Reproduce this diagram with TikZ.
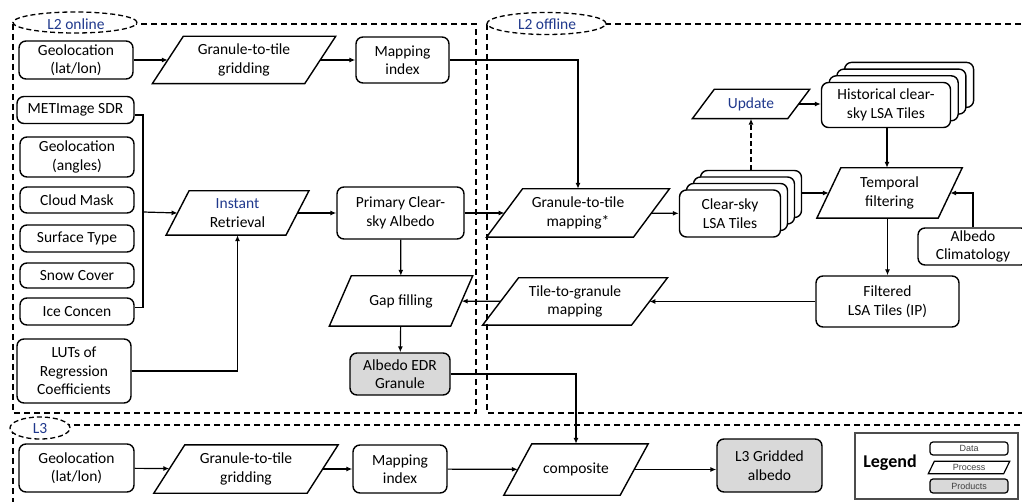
\documentclass[tikz,border=0pt]{standalone}
\usepackage{fontspec}
\setmainfont{Carlito}
\newfontfamily\legfont{Liberation Sans}
\usetikzlibrary{arrows.meta,calc,shapes.geometric}
\definecolor{lblue}{RGB}{31,56,140}
\definecolor{prodgray}{RGB}{217,217,217}
\newcommand\mainfs{\fontsize{15.5}{18.5}\selectfont}
\newcommand\paraoutline[2]{\draw[shapeline] ([xshift=-#2pt]#1.south west) -- ([xshift=#2pt]#1.north west) -- ([xshift=#2pt]#1.north east) -- ([xshift=-#2pt]#1.south east) -- cycle;}
\tikzset{
  box/.style={draw, rounded corners=7pt, line width=1.4pt, fill=white, align=center, inner sep=0pt, font=\mainfs},
  prod/.style={box, fill=prodgray},
  para/.style={inner sep=0pt, align=center, font=\mainfs},
  shapeline/.style={line width=1.4pt, line join=miter},
  conn/.style={line width=1.2pt},
  arr/.style={conn, -{Latex[length=6pt,width=5pt]}},
  region/.style={line width=1.4pt, dash pattern=on 6pt off 4pt},
  tag/.style={draw, line width=1.3pt, dash pattern=on 5pt off 3pt, ellipse, fill=white, inner sep=0pt},
  tagtext/.style={font=\mainfs, text=lblue},
  legbox/.style={draw, rounded corners=3pt, line width=1.2pt, inner sep=0pt, font=\legfont\fontsize{9}{10}\selectfont, text=black!75}
}
\begin{document}
\begin{tikzpicture}[x=1pt,y=-1pt]
\useasboundingbox (0,0) rectangle (1022,502);
\clip (0,0) rectangle (1022,502);
% regions
\draw[region] (13,24) rectangle (476,413);
\draw[region] (487,24) rectangle (1040,413);
\draw[region] (1040,425) -- (13,425) -- (13,515);
% region tags
\path (75,22.5) node[tag, minimum width=124pt, minimum height=21pt] (tagon) {};
\node[tagtext] (tagontext) at (76,24) {L2 online};
\path (546.5,23.5) node[tag, minimum width=119pt, minimum height=22pt] (tagoff) {};
\node[tagtext] (tagofftext) at (547,24) {L2 offline};
\path (40,428) node[tag, minimum width=60pt, minimum height=22pt] (tagl3) {};
\node[tagtext] (tagl3text) at (40,429) {L3};

% L2 online
\node[box, minimum width=114pt, minimum height=38pt] (geo1) at (76,60) {Geolocation\\(lat/lon)};
\node[para, minimum width=152pt, minimum height=47pt] (g2t1) at (244,60) {Granule-to-tile\\gridding};
\paraoutline{g2t1}{15.5}
\node[box, minimum width=93pt, minimum height=46pt] (map1) at (402.5,60) {Mapping\\index};

\node[box, minimum width=117pt, minimum height=27pt] (met) at (75.5,110) {METImage SDR};
\node[box, minimum width=114pt, minimum height=40pt] (geoang) at (77,157) {Geolocation\\(angles)};
\node[box, minimum width=114pt, minimum height=26pt] (cloud) at (77,200) {Cloud Mask};
\node[box, minimum width=114pt, minimum height=27pt] (surf) at (77,238.5) {Surface Type};
\node[box, minimum width=114pt, minimum height=25pt] (snow) at (77,275.5) {Snow Cover};
\node[box, minimum width=114pt, minimum height=27pt] (ice) at (77,311.5) {Ice Concen};
\node[box, minimum width=114pt, minimum height=64pt] (luts) at (74,371) {LUTs of\\Regression\\Coefficients};
\coordinate (brk) at (143,212);

\node[para, minimum width=119.5pt, minimum height=44pt] (inst) at (237.5,213) {{\color{lblue}Instant}\\Retrieval};
\paraoutline{inst}{11.5}
\node[box, minimum width=127pt, minimum height=52pt] (prim) at (400.5,213) {Primary Clear-\\sky Albedo};
\node[para, minimum width=121pt, minimum height=50pt] (gap) at (401,301) {Gap filling};
\paraoutline{gap}{11}
\node[prod, minimum width=100pt, minimum height=42pt] (edr) at (400,374) {Albedo EDR\\Granule};

% L2 offline
\node[para, minimum width=146.5pt, minimum height=48pt] (mapst) at (578,213) {Granule-to-tile\\mapping*};
\paraoutline{mapst}{18}
\foreach \k/\nm in {3/cs3,2/cs2,1/cs1}{
  \node[box, minimum width=101pt, minimum height=47pt] (\nm) at ($(730,213.5)+(7*\k,-6.5*\k)$) {};
}
\node[box, minimum width=101pt, minimum height=47pt] (cs) at (730,213.5) {Clear-sky\\LSA Tiles};
\node[para, minimum width=95pt, minimum height=29pt] (upd) at (751,104) {\color{lblue}Update};
\paraoutline{upd}{11}
\foreach \k/\nm in {3/hs3,2/hs2,1/hs1}{
  \node[box, minimum width=129pt, minimum height=45pt] (\nm) at ($(886,105)+(7.7*\k,-6.7*\k)$) {};
}
\node[box, minimum width=129pt, minimum height=45pt] (hs) at (886,105) {Historical clear-\\sky LSA Tiles};
\node[para, minimum width=121pt, minimum height=50pt] (tf) at (889.5,193) {Temporal\\filtering};
\paraoutline{tf}{12}
\node[box, minimum width=110pt, minimum height=37pt] (ac) at (973,246.5) {Albedo\\Climatology};
\node[box, minimum width=143pt, minimum height=51pt] (fl) at (887.5,301.5) {Filtered\\LSA Tiles (IP)};
\node[para, minimum width=148.5pt, minimum height=47pt] (t2g) at (575,301.5) {Tile-to-granule\\mapping};
\paraoutline{t2g}{18}

% L3
\node[box, minimum width=115pt, minimum height=48pt] (geo3) at (76.5,468) {Geolocation\\(lat/lon)};
\node[para, minimum width=153pt, minimum height=48pt] (g2t3) at (246,469) {Granule-to-tile\\gridding};
\paraoutline{g2t3}{15.5}
\node[box, minimum width=94pt, minimum height=48pt] (map3) at (400,469) {Mapping\\index};
\node[para, minimum width=116pt, minimum height=51pt] (comp) at (576,469.5) {composite};
\paraoutline{comp}{14}
\node[prod, minimum width=105pt, minimum height=53pt] (l3g) at (769.5,465.5) {L3 Gridded\\albedo};

% legend
\draw[line width=1.2pt, draw=black!70] (855,433) rectangle (1018,499);
\node[font=\bfseries\fontsize{18}{20}\selectfont] (legt) at (890,463) {Legend};
\node[legbox, minimum width=78pt, minimum height=13pt] (legdata) at (969,448.5) {Data};
\node[inner sep=0pt, minimum width=75pt, minimum height=12pt, font=\legfont\fontsize{9}{10}\selectfont, text=black!75] (legproc) at (969,467.5) {Process};
\draw[line width=1.2pt] ([xshift=-3pt]legproc.south west) -- ([xshift=3pt]legproc.north west) -- ([xshift=3pt]legproc.north east) -- ([xshift=-3pt]legproc.south east) -- cycle;
\node[legbox, fill=prodgray, minimum width=78pt, minimum height=14pt] (legprod) at (969,486) {Products};

% connectors
\draw[arr] (geo1) -- (g2t1);
\draw[arr] (g2t1) -- (map1);
\draw[arr] (map1.east) -| (mapst.north);
\draw[conn] ([yshift=-5pt]met.east) -| (brk) |- ([yshift=4pt]ice.east);
\draw[arr] (brk) -- (inst.west);
\draw[arr] (inst) -- (prim);
\draw[arr] (luts.east) -| (inst.south);
\draw[arr] (prim) -- (gap);
\draw[arr] (gap) -- (edr);
\draw[arr] (edr.east) -| (comp.north);
\draw[arr] (prim) -- (mapst);
\draw[arr] (mapst) -- (cs);
\draw[arr, dash pattern=on 5pt off 3pt] (cs3.north) -- (upd.south);
\draw[arr] (upd.east) -- (upd.east -| hs.west);
\draw[arr] (hs.south -| 887,0) -- (tf.north -| 887,0);
\draw[arr] (cs3.east |- tf.west) -- (tf.west);
\draw[arr] (ac.north) |- (tf.east);
\draw[arr] (tf.south -| fl.north) -- (fl.north);
\draw[arr] (fl) -- (t2g);
\draw[arr] (t2g) -- (gap);
\draw[arr] (geo3) -- (g2t3);
\draw[arr] (g2t3) -- (map3);
\draw[arr] (map3) -- (comp);
\draw[arr] (comp.east) -- (comp.east -| l3g.west);
\end{tikzpicture}
\end{document}
